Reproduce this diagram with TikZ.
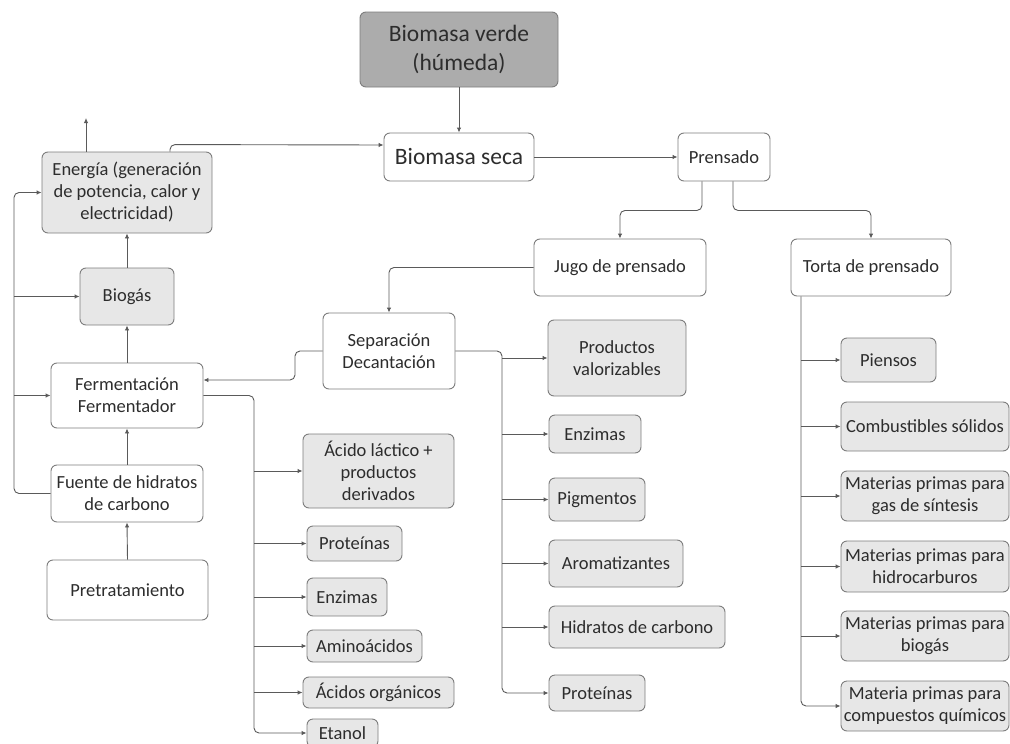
\documentclass[tikz,border=0pt]{standalone}
\usepackage{fontspec}
\setmainfont{Carlito}
\usetikzlibrary{arrows.meta}
\definecolor{boxline}{RGB}{125,125,125}
\definecolor{lightfill}{RGB}{231,231,231}
\definecolor{darkfill}{RGB}{172,172,172}
\definecolor{conncol}{RGB}{90,90,90}
\definecolor{txt}{RGB}{45,45,45}
\tikzset{
  box/.style={draw=boxline, line width=0.9pt, rounded corners=6pt, align=center, inner sep=1pt,
    text=txt, font=\fontsize{18.5}{22}\selectfont},
  wbox/.style={box, fill=white},
  gbox/.style={box, fill=lightfill},
  bigbox/.style={box, font=\fontsize{23.5}{29}\selectfont},
  conn/.style={draw=conncol, line width=0.9pt, rounded corners=5pt},
  arr/.style={conn, -{Latex[length=5pt,width=4.5pt]}},
}
\newcommand{\bx}[6]{\node[#1, minimum width=#4pt, minimum height=#5pt] (#2) at (#3) {#6};}
\begin{document}
\begin{tikzpicture}[x=1pt,y=-1pt]
\useasboundingbox (0,0) rectangle (1010,744);
% nodes
\bx{bigbox,fill=darkfill}{verde}{459,49.5}{198}{75}{Biomasa verde\\(húmeda)}
\bx{bigbox,fill=white}{seca}{459,157}{150}{48}{Biomasa seca}
\bx{wbox}{prensado}{724,157}{92}{48}{Prensado}
\bx{gbox}{energia}{127,192.5}{170}{81}{Energía (generación\\de potencia, calor y\\electricidad)}
\bx{wbox}{jugo}{620,267.5}{172}{57}{Jugo de prensado}
\bx{wbox}{torta}{871,267.5}{160}{57}{Torta de prensado}
\bx{gbox}{biogas}{127,296.5}{94}{57}{Biogás}
\bx{wbox}{separacion}{389,351}{132}{76}{Separación\\Decantación}
\bx{gbox}{productos}{617,358}{138}{76}{Productos\\valorizables}
\bx{wbox}{ferm}{127,395.5}{152}{65}{Fermentación\\Fermentador}
\bx{wbox}{fuente}{127,493.5}{152}{57}{Fuente de hidratos\\de carbono}
\bx{wbox}{pretrat}{127.5,590}{161}{60}{Pretratamiento}
% fermentation products
\bx{gbox}{acido}{378.5,471}{151}{74}{Ácido láctico +\\productos\\derivados}
\bx{gbox}{prot1}{354.5,543.5}{95}{35}{Proteínas}
\bx{gbox}{enz1}{347,597}{80}{38}{Enzimas}
\bx{gbox}{amino}{364.5,646}{115}{32}{Aminoácidos}
\bx{gbox}{acorg}{378.5,692.5}{151}{31}{Ácidos orgánicos}
\bx{gbox}{etanol}{342.5,733}{71}{28}{Etanol}
% separation products
\bx{gbox}{enz2}{595,434}{92}{38}{Enzimas}
\bx{gbox}{pigm}{597,499.5}{96}{43}{Pigmentos}
\bx{gbox}{arom}{616,563.5}{134}{47}{Aromatizantes}
\bx{gbox}{hidrat}{637,627}{176}{42}{Hidratos de carbono}
\bx{gbox}{prot2}{597,693}{96}{36}{Proteínas}
% press cake products
\bx{gbox}{piensos}{888.5,360}{95}{44}{Piensos}
\bx{gbox}{combust}{925,426.5}{168}{49}{Combustibles sólidos}
\bx{gbox}{gas}{925,496}{168}{50}{Materias primas para\\gas de síntesis}
\bx{gbox}{hidroc}{925,566.5}{168}{51}{Materias primas para\\hidrocarburos}
\bx{gbox}{matbio}{925,636}{168}{50}{Materias primas para\\biogás}
\bx{gbox}{comp}{925,706}{168}{50}{Materia primas para\\compuestos químicos}
% spine coordinates
\coordinate (lsp) at (14,0);
\coordinate (fsp) at (254,0);
\coordinate (ssp) at (502,0);
\coordinate (tsp) at (801,0);
\coordinate (sbend) at (295,0);
\coordinate (eup) at (86,118);
% main flow
\draw[arr] (verde.south) -- (seca.north);
\draw[arr] (seca.east) -- (prensado.west);
\draw[arr] ([xshift=43pt]energia.north) -- ++(0,-7) -- ([yshift=12pt]seca.west);
\draw[arr] (energia.north -| eup) -- (eup);
\draw[arr] ([xshift=-22pt]prensado.south) -- ++(0,29) -| (jugo.north);
\draw[arr] ([xshift=9pt]prensado.south) -- ++(0,29) -| (torta.north);
\draw[arr] (jugo.west) -| (separacion.north);
\draw[arr] (separacion.west) -- (separacion.west -| sbend) -- ([yshift=15.5pt]ferm.east -| sbend) -- ([yshift=15.5pt]ferm.east);
% left column
\draw[arr] (biogas.north) -- (energia.south);
\draw[arr] (ferm.north) -- (biogas.south);
\draw[arr] (fuente.north) -- (ferm.south);
\draw[arr] (pretrat.north) -- (fuente.south);
\draw[arr] (fuente.west) -- (fuente.west -| lsp) -- (energia.west -| lsp) -- (energia.west);
\draw[arr] (biogas.west -| lsp) -- (biogas.west);
\draw[arr] (ferm.west -| lsp) -- (ferm.west);
% fermentation spine
\draw[arr] (ferm.east) -- (ferm.east -| fsp) -- (etanol.west -| fsp) -- (etanol.west);
\foreach \n in {acido,prot1,enz1,amino,acorg}
  \draw[arr] (\n.west -| fsp) -- (\n.west);
% separation spine
\draw[arr] (separacion.east) -- (separacion.east -| ssp) -- (prot2.west -| ssp) -- (prot2.west);
\foreach \n in {productos,enz2,pigm,arom,hidrat}
  \draw[arr] (\n.west -| ssp) -- (\n.west);
% press cake spine
\draw[arr] (torta.south -| tsp) -- (comp.west -| tsp) -- (comp.west);
\foreach \n in {piensos,combust,gas,hidroc,matbio}
  \draw[arr] (\n.west -| tsp) -- (\n.west);
\end{tikzpicture}
\end{document}
